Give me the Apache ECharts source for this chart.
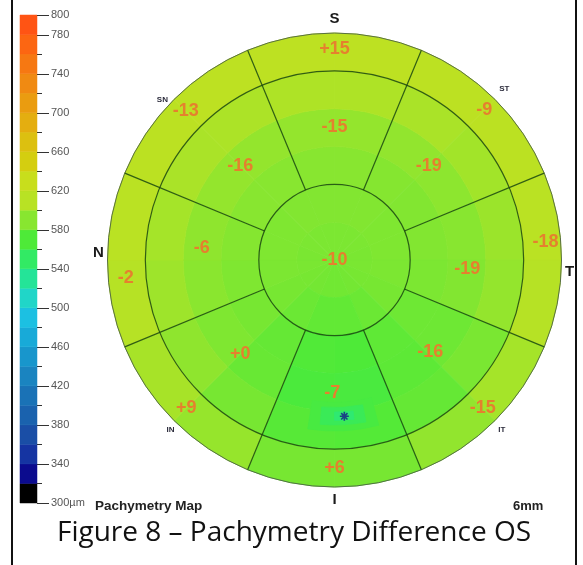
<!DOCTYPE html>
<html>
<head>
<meta charset="utf-8">
<script src="https://cdn.jsdelivr.net/npm/echarts@6/dist/echarts.min.js"></script>
<style>
  html, body { margin: 0; padding: 0; background: #fff; }
  #chart { width: 583px; height: 565px; }
</style>
</head>
<body>
<div id="chart"></div>
<script>
// Colour scale: one colour for every 20 µm step from 300 to 800 µm
const scaleSteps = [300, 320, 340, 360, 380, 400, 420, 440, 460, 480, 500, 520, 540,
                    560, 580, 600, 620, 640, 660, 680, 700, 720, 740, 760, 780];
const scaleColors = ['#000000', '#0b0b8e', '#1534a2', '#1a4ea6', '#1a62ae', '#1a72b6',
                     '#1a84c0', '#1896cc', '#18aad8', '#1cc0e2', '#20d6c8', '#24e498',
                     '#32ea64', '#4eea38', '#88e630', '#b8e224', '#c8de1c', '#d4ce10',
                     '#dcc010', '#e4ae10', '#ea9c10', '#f08a12', '#f67812', '#fc6612', '#ff5414'];
// Labelled scale values (long ticks); every step boundary gets a short tick
const scaleLabels = [300, 340, 380, 420, 460, 500, 540, 580, 620, 660, 700, 740, 780, 800];

// Thickness map (µm): radial bands in mm, 16 angular bins of 22.5° clockwise from superior
const bandEdges = [0, 0.5, 1, 1.5, 2, 2.5, 3];
const angleEdges = [0, 22.5, 45, 67.5, 90, 112.5, 135, 157.5, 180,
                    202.5, 225, 247.5, 270, 292.5, 315, 337.5, 360];
const thickness = [
  [586, 586, 586, 585, 585, 584, 583, 582, 582, 583, 584, 585, 585, 586, 586, 586], // 0–0.5
  [588, 588, 587, 587, 586, 584, 580, 577, 577, 580, 584, 586, 587, 587, 588, 588], // 0.5–1
  [590, 589, 588, 588, 586, 581, 576, 570, 571, 578, 584, 587, 589, 590, 590, 590], // 1–1.5
  [595, 594, 592, 590, 588, 581, 575, 567, 568, 579, 587, 591, 593, 595, 595, 595], // 1.5–2
  [606, 604, 601, 598, 595, 585, 578, 572, 573, 584, 593, 599, 602, 604, 605, 606], // 2–2.5
  [616, 615, 614, 612, 609, 602, 594, 584, 584, 596, 603, 609, 612, 614, 616, 616]  // 2.5–3
];

// Thin zone around the thinnest point: [r0, r1, angle0, angle1, µm]
const thinZone = [
  [1.88, 2.26, 165, 189, 566],
  [1.95, 2.18, 169, 185, 556],
  [2.01, 2.12, 173, 180, 545]
];
const thinnestPoint = [2.07, 176.4]; // [mm, degrees]

// Sector difference values (µm), sectors ordered S, ST, T, IT, I, IN, N, SN
const centralDiff = -10;
const innerDiff = [-15, -19, -19, -16, -7, 0, -6, -16];
const outerDiff = [15, -9, -18, -15, 6, 9, -2, -13];
const sectorNames = ['S', 'ST', 'T', 'IT', 'I', 'IN', 'N', 'SN'];

// Zone geometry (mm / degrees)
const ringRadii = [1, 2.5, 3];
const spokeAngles = [22.5, 67.5, 112.5, 157.5, 202.5, 247.5, 292.5, 337.5];

// ---- layout ----
const innerLabelPlace = [[1.76, 0], [1.76, 45], [1.76, 94], [1.76, 134], [1.76, 181], [1.76, 225], [1.76, 275], [1.76, 315]];
const outerLabelPlace = [[2.79, 0], [2.8, 45], [2.8, 85], [2.77, 135], [2.75, 180], [2.77, 225], [2.77, 265], [2.78, 315]];
const namePlace = [[3.19, 0], [3.19, 44.7], [3.11, 92.9], [3.15, 135.4], [3.17, 180], [3.12, 224], [3.12, 271.7], [3.11, 313]];

const signed = v => (v >= 0 ? '+' + v : String(v));
const stepSize = scaleSteps[1] - scaleSteps[0];
const scaleTop = scaleSteps[scaleSteps.length - 1] + stepSize;

const cells = [];
thickness.forEach((row, b) => {
  row.forEach((v, k) => cells.push([bandEdges[b], bandEdges[b + 1], angleEdges[k], angleEdges[k + 1], v]));
});

function polarGeom(api) {
  const c = api.coord([0, 0]);
  return {
    c,
    dist: p => Math.hypot(p[0] - c[0], p[1] - c[1]),
    ang: p => Math.atan2(p[1] - c[1], p[0] - c[0])
  };
}

function renderCell(params, api) {
  const g = polarGeom(api);
  const r0 = api.value(0), r1 = api.value(1), a0 = api.value(2), a1 = api.value(3);
  const pStart = api.coord([r1, a0]);
  const pEnd = api.coord([r1, a1]);
  const pIn = api.coord([r0, a0]);
  const start = g.ang(pStart);
  let sweep = g.ang(pEnd) - start;
  while (sweep <= 0) sweep += Math.PI * 2;
  const color = api.visual('color');
  return {
    type: 'sector',
    shape: { cx: g.c[0], cy: g.c[1], r0: g.dist(pIn), r: g.dist(pStart),
             startAngle: start, endAngle: start + sweep, clockwise: true },
    style: { fill: color, stroke: color, lineWidth: 0.8 }
  };
}

// text placed at [radius, angle] through the polar coordinate system
function textSeries(items, font, fill) {
  return {
    type: 'custom', coordinateSystem: 'polar', silent: true,
    data: items.map(d => d.at),
    renderItem: (params, api) => {
      const p = api.coord([api.value(0), api.value(1)]);
      const it = items[params.dataIndex];
      return {
        type: 'text', x: p[0], y: p[1],
        style: { text: it.text, font: it.font || font, fill: it.fill || fill, align: 'center', verticalAlign: 'middle' }
      };
    }
  };
}

const diffItems = [{ text: signed(centralDiff), at: [0, 0] }]
  .concat(innerDiff.map((v, i) => ({ text: signed(v), at: innerLabelPlace[i] })))
  .concat(outerDiff.map((v, i) => ({ text: signed(v), at: outerLabelPlace[i] })));

const nameItems = sectorNames.map((n, i) => ({
  text: n,
  at: namePlace[i],
  font: n.length === 2 ? 'bold 8px "Liberation Sans"' : null,
  fill: n.length === 2 ? '#2a2a3a' : null
}));

const tickValues = scaleSteps.concat([scaleTop]).map(v => [v, scaleLabels.indexOf(v) >= 0 ? 1 : 0]);

const chart = echarts.init(document.getElementById('chart'));

const option = {
  animation: false,
  backgroundColor: '#ffffff',
  grid: { left: 20, top: 15, width: 17, height: 488 },
  xAxis: { type: 'value', min: 0, max: 1, show: false },
  yAxis: {
    type: 'value', min: scaleSteps[0], max: scaleTop, interval: 40, position: 'right',
    axisLine: { show: false },
    axisTick: { show: false },
    splitLine: { show: false },
    axisLabel: {
      margin: 14, color: '#555', fontSize: 11, fontFamily: 'Liberation Sans',
      formatter: v => (scaleLabels.indexOf(v) < 0 ? '' : v === scaleSteps[0] ? v + 'µm' : String(v))
    }
  },
  polar: { center: [334.5, 260], radius: 227 },
  angleAxis: { type: 'value', min: 0, max: 360, startAngle: 90, clockwise: true, show: false },
  radiusAxis: { type: 'value', min: 0, max: 3, show: false },
  visualMap: {
    type: 'continuous', show: false, seriesIndex: [2, 3], dimension: 4,
    min: 310, max: 790, inRange: { color: scaleColors }
  },
  graphic: [
    { type: 'line', shape: { x1: 12, y1: 0, x2: 12, y2: 565 }, style: { stroke: '#111', lineWidth: 2 } },
    { type: 'line', shape: { x1: 576, y1: 0, x2: 576, y2: 565 }, style: { stroke: '#111', lineWidth: 2 } },
    { type: 'text', x: 95, y: 506,
      style: { text: 'Pachymetry Map', font: 'bold 13.5px "Liberation Sans"', fill: '#222', align: 'left', verticalAlign: 'middle' } },
    { type: 'text', x: 513, y: 506,
      style: { text: '6mm', font: 'bold 13px "Liberation Sans"', fill: '#222', align: 'left', verticalAlign: 'middle' } },
    { type: 'text', x: 294, y: 533,
      style: { text: 'Figure 8 \u2013 Pachymetry Difference OS', font: '28px "Open Sans"', fill: '#111', align: 'center', verticalAlign: 'middle' } }
  ],
  series: [
    // colour scale bar
    {
      type: 'custom', coordinateSystem: 'cartesian2d',
      data: scaleSteps.map((lo, i) => [0, lo, lo + stepSize]),
      renderItem: (params, api) => {
        const top = api.coord([0, api.value(2)]);
        const bottom = api.coord([1, api.value(1)]);
        const fill = scaleColors[params.dataIndex];
        return {
          type: 'rect',
          shape: { x: top[0], y: top[1], width: bottom[0] - top[0], height: bottom[1] - top[1] },
          style: { fill, stroke: fill, lineWidth: 0.5 }
        };
      }
    },
    // colour scale ticks
    {
      type: 'custom', coordinateSystem: 'cartesian2d',
      data: tickValues.map(t => [1, t[0], t[1]]),
      renderItem: (params, api) => {
        const p = api.coord([1, api.value(1)]);
        const len = api.value(2) ? 12 : 5;
        const y = Math.round(p[1]) + 0.5;
        return {
          type: 'line',
          shape: { x1: p[0], y1: y, x2: p[0] + len, y2: y },
          style: { stroke: '#333', lineWidth: 1 }
        };
      }
    },
    // thickness cells
    { type: 'custom', coordinateSystem: 'polar', data: cells, renderItem: renderCell, silent: true },
    // thin zone
    { type: 'custom', coordinateSystem: 'polar', data: thinZone, renderItem: renderCell, silent: true },
    // zone rings
    {
      type: 'custom', coordinateSystem: 'polar', silent: true,
      data: ringRadii.map(r => [r, 0]),
      renderItem: (params, api) => {
        const g = polarGeom(api);
        const r = api.value(0);
        const outer = params.dataIndex === ringRadii.length - 1;
        return {
          type: 'circle',
          shape: { cx: g.c[0], cy: g.c[1], r: g.dist(api.coord([r, 0])) },
          style: { fill: 'none', stroke: outer ? 'rgba(70,90,70,0.85)' : 'rgba(25,70,15,0.85)', lineWidth: outer ? 1 : 1.2 }
        };
      }
    },
    // sector spokes
    {
      type: 'custom', coordinateSystem: 'polar', silent: true,
      data: spokeAngles.map(a => [ringRadii[0], a]),
      renderItem: (params, api) => {
        const a = api.value(1);
        const p0 = api.coord([ringRadii[0], a]);
        const p1 = api.coord([ringRadii[ringRadii.length - 1], a]);
        return {
          type: 'line',
          shape: { x1: p0[0], y1: p0[1], x2: p1[0], y2: p1[1] },
          style: { stroke: 'rgba(25,70,15,0.85)', lineWidth: 1.2 }
        };
      }
    },
    // thinnest point marker
    {
      type: 'scatter', coordinateSystem: 'polar', silent: true,
      symbol: 'path://M0,5L10,5M5,0L5,10M1.5,1.5L8.5,8.5M8.5,1.5L1.5,8.5',
      symbolSize: 9,
      itemStyle: { color: '#151a8a', borderColor: '#151a8a', borderWidth: 1.6 },
      data: [thinnestPoint]
    },
    // difference labels
    textSeries(diffItems, 'bold 18px "Liberation Sans"', '#e5802e'),
    // sector names around the map
    textSeries(nameItems, 'bold 15px "Liberation Sans"', '#1a1a1a')
  ]
};

chart.setOption(option);
</script>
</body>
</html>
